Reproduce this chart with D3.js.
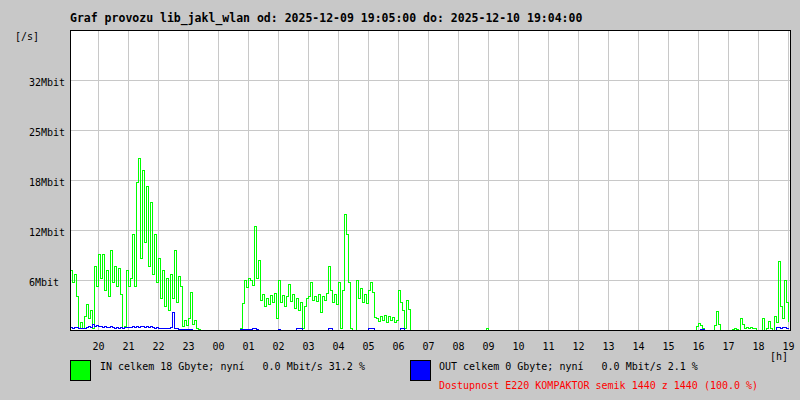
<!DOCTYPE html>
<html><head><meta charset="utf-8">
<script src="https://cdn.jsdelivr.net/npm/d3@7"></script>
<style>
body{margin:0;background:#c8c8c8}
svg{display:block}
text{font-family:"DejaVu Sans Mono",monospace;white-space:pre}
</style>
</head><body>
<svg id="c" width="800" height="400"></svg>
<script>
// ---- data (Mbit/s, one sample every 4 minutes starting 19:05) ----
const titleText = "Graf provozu lib_jakl_wlan od: 2025-12-09 19:05:00 do: 2025-12-10 19:04:00";
const hourLabels = ["20","21","22","23","00","01","02","03","04","05","06","07","08","09","10","11","12","13","14","15","16","17","18","19"];
const firstHourOffsetMin = 55;
const sampleStepMin = 4;
const totalMinutes = 1440;
const yMax = 37.5;
const yTickValues = [6.25, 12.5, 18.75, 25, 31.25];
const yTickLabels = ["6Mbit","12Mbit","18Mbit","25Mbit","32Mbit"];
const legendIn = "IN celkem 18 Gbyte; nyní   0.0 Mbit/s 31.2 %";
const legendOut = "OUT celkem 0 Gbyte; nyní   0.0 Mbit/s 2.1 %";
const availabilityText = "Dostupnost E220 KOMPAKTOR semik 1440 z 1440 (100.0 %)";

const inMbit = [
  7.5,6,7,4.2,0.3,1,0.2,1.8,3.2,1.5,2.5,0.3,8,5.5,9.5,
  6.5,9.5,5,7.5,4.2,10,6,8,5.5,7.8,4.5,0.3,0.5,7.5,5.5,
  6.5,12,5.5,18.5,21.5,9,20,11,18,8,16,7,12,6,9,
  4,7.5,3,6.5,2.5,7,4,10,3.5,6.8,5.5,0.5,1.2,0.6,1.5,
  4.7,0.8,1.2,0.3,0.1,0,0,0,0,0,0,0,0,0,0,
  0,0,0,0,0,0,0,0,0,0,0.2,3.4,6.2,5.4,6.5,
  6.2,5.6,13,6.5,8.8,3.8,4.5,3,4,3.2,4.4,3.5,4.6,1.5,6.2,
  3.5,4.4,3,4.2,5.7,3.6,4.5,2.8,4,2.5,3.5,0.3,3,4,4.2,
  6,3.8,4.3,3.6,4.5,2.2,4.2,3.8,4.6,8,5,3.5,4.5,3.2,6,
  0.3,5,14.5,12,6,0.3,0,0,6.2,4,5.2,3.5,4.5,3.4,5,
  6,4.8,1.6,1.5,1.1,1.8,1.2,1.9,1,1.7,1.3,1.6,1,1.3,5,
  3.5,2.5,0.3,3.8,2.6,0,0,0,0,0,0,0,0,0,0,
  0,0,0,0,0,0,0,0,0,0,0,0,0,0,0,
  0,0,0,0,0,0,0,0,0,0,0,0,0,0.3,0,
  0,0,0,0,0,0,0,0,0,0,0,0,0,0,0,
  0,0,0,0,0,0,0,0,0,0,0,0,0,0,0,
  0,0,0,0,0,0,0,0,0,0,0,0,0,0,0,
  0,0,0,0,0,0,0,0,0,0,0,0,0,0,0,
  0,0,0,0,0,0,0,0,0,0,0,0,0,0,0,
  0,0,0,0,0,0,0,0,0,0,0,0,0,0,0,
  0,0,0,0,0,0,0,0,0,0,0,0,0,0.5,0.9,
  0.6,0.3,0,0,0,0,0,0.6,2.4,0.8,0,0,0,0,0,
  0,0.15,0.2,0.15,0,1.5,0.8,0.3,0.4,0.2,0.4,0.2,0.3,0,0,
  0,1.5,0,0.2,1.1,0.3,0,1.8,1,8.6,3,1.5,6.3,3.5,1.1
];

const outMbit = [
  0.4,0.3,0.4,0.4,0.3,0.2,0.3,0.3,0.4,0.5,0.4,0.7,0.5,0.6,0.5,
  0.5,0.4,0.5,0.4,0.4,0.5,0.4,0.3,0.4,0.3,0.4,0.3,0.4,0.4,0.4,
  0.4,0.5,0.4,0.5,0.4,0.5,0.5,0.4,0.5,0.4,0.5,0.4,0.3,0.4,0.3,
  0.3,0.2,0.3,0.2,0.3,0.4,2.2,0.3,0.2,0.1,0.1,0.1,0.1,0.1,0.1,
  0.1,0,0,0,0,0,0,0,0,0,0,0,0,0,0,
  0,0,0,0,0,0,0,0,0,0,0.1,0.1,0.1,0.1,0.1,
  0.1,0.2,0.2,0.1,0,0,0,0,0,0,0,0,0,0,0.1,
  0,0,0,0,0,0,0,0,0.2,0.2,0.2,0,0,0,0,
  0,0,0,0,0,0,0,0,0,0.2,0.2,0,0,0,0,
  0,0,0,0,0,0,0,0,0,0,0,0,0,0,0.2,
  0.2,0.2,0,0,0,0,0,0,0,0,0,0,0,0,0,
  0.2,0.2,0,0,0,0,0,0,0,0,0,0,0,0,0,
  0,0,0,0,0,0,0,0,0,0,0,0,0,0,0,
  0,0,0,0,0,0,0,0,0,0,0,0,0,0,0,
  0,0,0,0,0,0,0,0,0,0,0,0,0,0,0,
  0,0,0,0,0,0,0,0,0,0,0,0,0,0,0,
  0,0,0,0,0,0,0,0,0,0,0,0,0,0,0,
  0,0,0,0,0,0,0,0,0,0,0,0,0,0,0,
  0,0,0,0,0,0,0,0,0,0,0,0,0,0,0,
  0,0,0,0,0,0,0,0,0,0,0,0,0,0,0,
  0,0,0,0,0,0,0,0,0,0,0,0,0,0,0,
  0.1,0.1,0,0,0,0,0,0,0,0,0,0,0,0,0,
  0,0,0,0,0,0,0,0,0,0,0,0,0,0,0,
  0,0,0,0,0,0,0,0,0.4,0.4,0.3,0.4,0.4,0.3,0.2
];

// ---- layout ----
const L = 70, R = 790, T = 30, B = 330;
const svg = d3.select("#c");
const x = d3.scaleLinear().domain([0, totalMinutes]).range([L, R]);
const y = d3.scaleLinear().domain([0, yMax]).range([B, T]);

svg.append("rect").attr("width",800).attr("height",400).attr("fill","#c8c8c8");
svg.append("rect").attr("x",L).attr("y",T).attr("width",R-L).attr("height",B-T).attr("fill","#fff");

const hourMin = hourLabels.map((h,i) => firstHourOffsetMin + 60*i);

// grid
const grid = svg.append("g").attr("stroke","#c8c8c8").attr("stroke-width",1).attr("shape-rendering","crispEdges");
grid.selectAll("line.v").data(hourMin).join("line")
  .attr("x1", d => Math.ceil(x(d)) + 0.5).attr("x2", d => Math.ceil(x(d)) + 0.5)
  .attr("y1", T).attr("y2", B);
grid.selectAll("line.h").data(yTickValues).join("line")
  .attr("x1", L).attr("x2", R + 1)
  .attr("y1", d => Math.round(y(d)) + 0.5).attr("y2", d => Math.round(y(d)) + 0.5);

// series
const line = d3.line()
  .x((d,i) => x(i*sampleStepMin) + 0.5)
  .y(d => y(d) + 0.5)
  .curve(d3.curveStepAfter);
svg.append("path").datum(inMbit).attr("d", line)
  .attr("fill","none").attr("stroke","#00ff00").attr("stroke-width",1).attr("shape-rendering","crispEdges");
svg.append("path").datum(outMbit).attr("d", line)
  .attr("fill","none").attr("stroke","#0000ff").attr("stroke-width",1).attr("shape-rendering","crispEdges");

// frame
const frame = svg.append("g").attr("stroke","#000").attr("stroke-width",1).attr("shape-rendering","crispEdges");
frame.append("line").attr("x1",L+0.5).attr("x2",L+0.5).attr("y1",T).attr("y2",B+1);
frame.append("line").attr("x1",L).attr("x2",R+1).attr("y1",T+0.5).attr("y2",T+0.5);
frame.append("line").attr("x1",L).attr("x2",R+1).attr("y1",B+0.5).attr("y2",B+0.5);
frame.append("line").attr("x1",R+0.5).attr("x2",R+0.5).attr("y1",T).attr("y2",B+1);

// title
svg.append("text").attr("x",L).attr("y",22).attr("font-size","11.5px").attr("font-weight","bold")
  .attr("fill","#000").text(titleText);

// y labels
svg.append("text").attr("x",15).attr("y",40).attr("font-size","10px").attr("fill","#000").text("[/s]");
svg.selectAll("text.yl").data(yTickValues).join("text").attr("class","yl")
  .attr("x",29).attr("y", d => Math.round(y(d)) + 6)
  .attr("font-size","10px").attr("fill","#000")
  .text((d,i) => yTickLabels[i]);

// x labels
svg.selectAll("text.xl").data(hourMin).join("text").attr("class","xl")
  .attr("x", d => Math.ceil(x(d)) + 0.5).attr("y", 350)
  .attr("text-anchor","middle").attr("font-size","10px").attr("fill","#000")
  .text((d,i) => hourLabels[i]);
svg.append("text").attr("x",770).attr("y",360).attr("font-size","10px").attr("fill","#000").text("[h]");

// legend
svg.append("rect").attr("x",70.5).attr("y",360.5).attr("width",20).attr("height",20)
  .attr("fill","#00ff00").attr("stroke","#000");
svg.append("text").attr("x",100).attr("y",370).attr("font-size","10px").attr("fill","#000").text(legendIn);
svg.append("rect").attr("x",410.5).attr("y",360.5).attr("width",20).attr("height",20)
  .attr("fill","#0000ff").attr("stroke","#000");
svg.append("text").attr("x",439).attr("y",370).attr("font-size","10px").attr("fill","#000").text(legendOut);
svg.append("text").attr("x",439).attr("y",389).attr("font-size","10px").attr("fill","#ff0000").text(availabilityText);
</script>
</body></html>
